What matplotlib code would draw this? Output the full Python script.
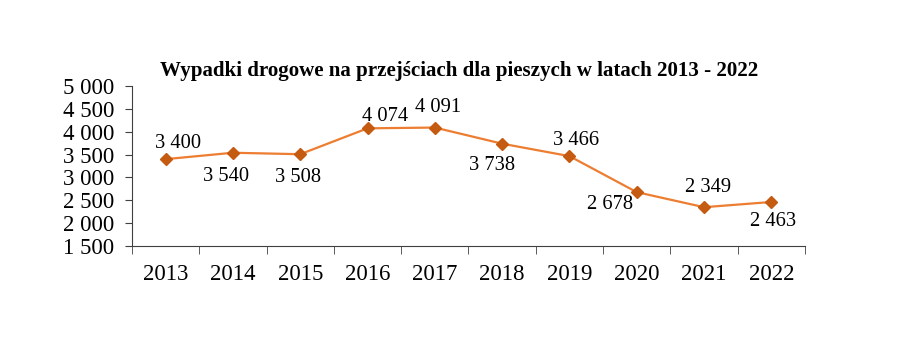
import matplotlib.pyplot as plt
import numpy as np

years = ["2013", "2014", "2015", "2016", "2017", "2018", "2019", "2020", "2021", "2022"]
accidents = [3400, 3540, 3508, 4074, 4091, 3738, 3466, 2678, 2349, 2463]
# label offsets in pixels (dx, dy) relative to each point
label_offsets = [(12, 16), (-7, -24), (-2, -23), (18, 12), (3, 20), (-10, -22), (7, 16), (-27, -12), (4, 20), (2, -20)]

plt.rcParams['font.family'] = ['Liberation Serif', 'DejaVu Serif']

fig = plt.figure(figsize=(9.02, 3.51), dpi=100)
ax = fig.add_axes([0.1463, 0.2991, 0.7462, 0.4559])

x = np.arange(len(years))
ax.plot(x, accidents, color='#ED7D31', lw=1.6, marker='D', markersize=6,
        markerfacecolor='#C55A11', markeredgecolor='#C55A11', zorder=3)

for xi, v, (dx, dy) in zip(x, accidents, label_offsets):
    txt = f"{v:,}".replace(",", " ")
    ax.annotate(txt, (xi, v), xytext=(dx, dy), textcoords='offset pixels',
                ha='center', va='center', fontsize=14.8)

ax.set_xlim(-0.5, len(years) - 0.5)
ax.set_ylim(1500, 5000)
ax.set_yticks(np.arange(1500, 5001, 500))
ax.set_yticklabels([f"{t:,}".replace(",", " ") for t in range(1500, 5001, 500)], fontsize=16.5)

ax.set_xticks(x)
ax.set_xticklabels(years, fontsize=16.5)
ax.tick_params(axis='x', which='major', length=0, pad=13)
ax.set_xticks(np.arange(-0.5, len(years), 1), minor=True)
ax.tick_params(axis='x', which='minor', length=6, color='#404040')
ax.tick_params(axis='y', length=5, color='#404040', pad=8)

for s in ['top', 'right']:
    ax.spines[s].set_visible(False)
ax.spines['left'].set_color('#404040')
ax.spines['bottom'].set_color('#404040')

fig.text(0.509, 0.797, "Wypadki drogowe na przejściach dla pieszych w latach 2013 - 2022",
         ha='center', va='center', fontsize=15.1, fontweight='bold')

fig.savefig('out.png', dpi=100)
